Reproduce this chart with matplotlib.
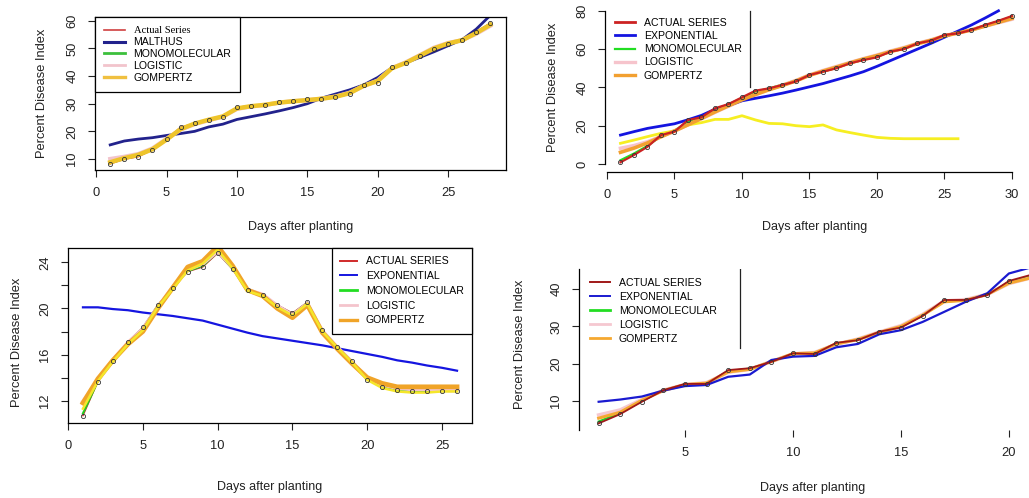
import matplotlib
matplotlib.use('Agg')
import matplotlib.pyplot as plt
from matplotlib.lines import Line2D

plt.rcParams['font.family'] = ['Liberation Sans', 'DejaVu Sans']

# ---- panel 1 (top left) ----
days1 = list(range(1, 29))
p1_actual = [8.2, 9.9, 10.8, 13.3, 17.1, 21.5, 22.9, 24.1, 25.1, 28.7, 29.3, 29.6, 30.8, 31.1,
             31.6, 31.6, 32.3, 33.4, 36.8, 37.6, 43.4, 44.7, 47.1, 49.8, 51.6, 52.9, 56.1, 59.2]
p1_malthus = [15.1, 16.5, 17.2, 17.7, 18.5, 19.2, 20.0, 21.6, 22.6, 24.3, 25.3, 26.3, 27.4, 28.6,
              30.0, 32.0, 33.5, 35.0, 36.8, 39.5, 43.0, 44.8, 46.8, 48.8, 51.0, 53.2, 57.0, 62.0]
p1_mono = [8.5, 10.1, 11.2, 13.4, 17.0, 21.0, 22.8, 24.1, 25.2, 28.5, 29.2, 29.6, 30.6, 31.0,
           31.4, 31.7, 32.4, 33.6, 36.6, 38.0, 43.0, 44.8, 47.2, 49.9, 51.7, 52.9, 55.8, 58.9]
p1_logistic = [10.0, 10.8, 11.8, 13.8, 17.3, 20.6, 22.6, 24.0, 25.3, 28.1, 29.0, 29.5, 30.4, 30.9,
               31.3, 31.8, 32.6, 34.0, 36.4, 38.4, 42.9, 45.0, 47.6, 50.3, 52.0, 53.0, 55.3, 58.2]
p1_gompertz = [8.8, 10.3, 11.5, 13.5, 17.0, 20.8, 22.8, 24.2, 25.4, 28.3, 29.1, 29.6, 30.4, 30.9,
               31.3, 31.8, 32.5, 33.8, 36.5, 38.2, 42.8, 44.8, 47.4, 50.0, 51.8, 53.0, 55.6, 58.6]
p1_labels = ['Actual Series', 'MALTHUS', 'MONOMOLECULAR', 'LOGISTIC', 'GOMPERTZ']

# ---- panel 2 (top right) ----
days2 = list(range(1, 31))
p2_actual = [0.9, 4.7, 9.0, 15.1, 16.9, 23.0, 24.4, 29.1, 31.3, 34.8, 38.3, 39.5, 41.3, 43.1, 46.5,
             48.2, 50.0, 52.6, 54.3, 55.7, 58.7, 60.0, 63.0, 64.4, 67.4, 68.2, 70.0, 72.6, 74.8, 77.3]
p2_expo = [15.1, 16.9, 18.6, 19.8, 21.0, 23.1, 25.4, 28.6, 30.6, 33.0, 34.3, 35.6, 37.0, 38.6, 40.3,
           42.0, 44.0, 46.0, 48.2, 51.0, 54.0, 57.0, 60.0, 63.0, 66.2, 69.4, 72.6, 76.2, 80.0]
p2_mono = [2.0, 5.5, 9.5, 14.5, 17.5, 22.0, 24.5, 28.5, 31.2, 34.5, 37.8, 39.5, 41.5, 43.4, 46.4,
           48.3, 50.2, 52.6, 54.4, 56.0, 58.7, 60.2, 62.9, 64.5, 67.2, 68.3, 70.1, 72.4, 74.6, 77.0]
p2_logistic = [8.2, 9.6, 11.6, 14.4, 17.3, 20.4, 23.6, 27.0, 30.2, 33.3, 36.2, 38.8, 41.2, 43.6, 46.5,
               48.8, 50.9, 53.0, 55.0, 56.9, 59.0, 60.8, 63.0, 64.8, 67.0, 68.5, 70.1, 72.0, 73.8, 75.6]
p2_gompertz = [6.1, 8.3, 11.0, 14.2, 17.2, 20.5, 23.8, 27.2, 30.4, 33.5, 36.3, 38.8, 41.0, 43.4, 46.3,
               48.5, 50.6, 52.8, 54.8, 56.6, 58.7, 60.5, 62.8, 64.6, 66.9, 68.4, 70.0, 72.0, 74.0, 76.0]
p2_extra = [10.8, 12.5, 14.3, 16.0, 17.3, 20.4, 21.6, 23.3, 23.3, 25.2, 23.0, 21.2, 21.0, 20.0, 19.5,
            20.4, 17.8, 16.4, 15.1, 13.9, 13.4, 13.2, 13.2, 13.2, 13.2, 13.2]
p2_labels = ['ACTUAL SERIES', 'EXPONENTIAL', 'MONOMOLECULAR', 'LOGISTIC', 'GOMPERTZ']

# ---- panel 3 (bottom left) ----
days3 = list(range(1, 27))
p3_actual = [10.7, 13.65, 15.45, 17.1, 18.35, 20.3, 21.8, 23.2, 23.6, 24.8, 23.4, 21.6, 21.2, 20.3,
             19.6, 20.55, 18.15, 16.7, 15.4, 13.8, 13.2, 12.9, 12.8, 12.8, 12.8, 12.8]
p3_expo = [20.1, 20.1, 19.95, 19.85, 19.65, 19.5, 19.35, 19.15, 18.95, 18.6, 18.25, 17.9, 17.6, 17.4,
           17.2, 17.0, 16.8, 16.55, 16.3, 16.05, 15.8, 15.5, 15.3, 15.05, 14.85, 14.6]
p3_mono = [10.9, 13.7, 15.45, 17.05, 18.3, 20.25, 21.8, 23.25, 23.7, 24.9, 23.45, 21.6, 21.2, 20.25,
           19.5, 20.5, 18.1, 16.65, 15.35, 13.85, 13.2, 12.95, 12.85, 12.85, 12.85, 12.85]
p3_logistic = [11.9, 13.8, 15.5, 17.0, 18.2, 20.1, 21.8, 23.4, 23.9, 25.0, 23.6, 21.6, 21.2, 20.2,
               19.4, 20.4, 18.0, 16.6, 15.3, 13.9, 13.4, 13.1, 13.0, 13.0, 13.0, 13.0]
p3_gompertz = [11.8, 13.9, 15.5, 16.9, 18.0, 20.0, 21.8, 23.6, 24.1, 25.4, 23.7, 21.6, 21.1, 20.0,
               19.2, 20.3, 17.9, 16.5, 15.2, 14.0, 13.5, 13.2, 13.2, 13.2, 13.2, 13.2]
p3_extra = [11.3, 13.7, 15.4, 16.9, 18.1, 20.1, 21.7, 23.3, 23.9, 25.1, 23.5, 21.5, 21.1, 20.1,
            19.4, 20.4, 18.0, 16.6, 15.3, 13.8, 13.1, 12.8, 12.7, 12.7, 12.8, 12.8]
p3_labels = ['ACTUAL SERIES', 'EXPONENTIAL', 'MONOMOLECULAR', 'LOGISTIC', 'GOMPERTZ']

# ---- panel 4 (bottom right) ----
days4 = list(range(1, 22))
p4_actual = [4.0, 6.5, 9.8, 12.9, 14.6, 14.6, 18.3, 18.8, 20.5, 22.8, 22.6, 25.6, 26.3, 28.6, 29.7,
             32.8, 37.1, 37.1, 38.4, 42.2, 43.8]
p4_expo = [9.8, 10.4, 11.2, 12.8, 14.0, 14.3, 16.5, 17.1, 21.0, 21.9, 22.1, 24.4, 25.3, 27.9, 29.0,
           31.2, 33.9, 36.6, 38.9, 44.2, 45.8]
p4_mono = [4.5, 6.8, 10.0, 12.9, 14.5, 14.7, 18.0, 18.7, 20.5, 22.7, 22.8, 25.4, 26.4, 28.5, 29.9,
           32.9, 36.9, 37.1, 38.5, 41.9, 43.4]
p4_logistic = [6.25, 7.6, 10.4, 12.9, 14.4, 14.9, 17.7, 18.5, 20.6, 22.6, 23.0, 25.2, 26.6, 28.5, 30.2,
               33.2, 36.8, 37.2, 38.6, 41.5, 43.0]
p4_gompertz = [5.4, 7.0, 10.2, 12.8, 14.4, 14.8, 17.8, 18.5, 20.6, 22.7, 22.9, 25.3, 26.5, 28.4, 30.0,
               33.0, 36.6, 37.0, 38.6, 41.6, 43.0]
p4_labels = ['ACTUAL SERIES', 'EXPONENTIAL', 'MONOMOLECULAR', 'LOGISTIC', 'GOMPERTZ']

W, H = 1029, 498
XLAB = 'Days after planting'
YLAB = 'Percent Disease Index'


def px_axes(fig, left, top, right, bottom):
  return fig.add_axes([left/W, 1 - bottom/H, (right - left)/W, (bottom - top)/H])


def style(ax, xticks, yticks, ylabels=None):
  ax.set_xticks(xticks)
  ax.set_yticks(yticks)
  if ylabels is not None:
    ax.set_yticklabels(ylabels)
  ax.tick_params(direction='out', length=5, width=0.8, labelsize=9.3, pad=7, colors='#222222')
  for t in ax.get_yticklabels():
    t.set_rotation(90)
    t.set_va('center')
  for s in ax.spines.values():
    s.set_linewidth(0.9)


def labels(ax, xpos, ypos):
  ax.set_xlabel(XLAB, fontsize=9.0, color='#222222')
  ax.set_ylabel(YLAB, fontsize=9.3, color='#222222')
  ax.xaxis.set_label_coords(*xpos)
  ax.yaxis.set_label_coords(*ypos)
  ax.xaxis.label.set_va('center')
  ax.yaxis.label.set_va('center')


def points(ax, x, y):
  ax.plot(x, y, 'o', mfc='none', mec='#333333', ms=3, mew=0.6, zorder=10)


def legend(ax, cols, lws, labs, **kw):
  hs = [Line2D([], [], color=c, lw=w) for c, w in zip(cols, lws)]
  return ax.legend(hs, labs, fontsize=7.6, borderaxespad=0, fancybox=False, framealpha=1,
                   handletextpad=0.8, **kw)


fig = plt.figure(figsize=(W/100, H/100), dpi=100)

# panel 1
ax1 = px_axes(fig, 95, 17, 505.5, 170)
ax1.plot(days1, p1_actual, color='#d03a3a', lw=1.0)
ax1.plot(days1, p1_malthus, color='#22228c', lw=2.0)
ax1.plot(days1, p1_mono, color='#3cc03c', lw=1.5)
ax1.plot(days1, p1_logistic, color='#f2c4cc', lw=3.0)
ax1.plot(days1, p1_gompertz, color='#eec42a', lw=3.2)
points(ax1, days1, p1_actual)
ax1.set_xlim(-0.08, 29.08)
ax1.set_ylim(6.0, 61.4)
style(ax1, [0, 5, 10, 15, 20, 25], [10, 20, 30, 40, 50, 60])
labels(ax1, (0.5, -0.37), (-0.129, 0.5))
lg = legend(ax1, ['#d04040', '#22228c', '#3cc03c', '#f2c4cc', '#f0c040'], [1.2, 2.2, 2, 2, 2.4],
            p1_labels, loc='upper left', bbox_to_anchor=(0, 1), handlelength=2.0,
            labelspacing=0.18, borderpad=0.85, edgecolor='black')
lg.get_frame().set_linewidth(0.9)
lg.get_texts()[0].set_family(['Liberation Serif', 'DejaVu Serif'])

# panel 2
ax2 = px_axes(fig, 605, 0, 1029, 172)
ax2.plot(days2, p2_mono, color='#22dd22', lw=1.5)
ax2.plot(days2, p2_logistic, color='#f6c4cc', lw=2.6)
ax2.plot(days2[:len(p2_extra)], p2_extra, color='#f6ee22', lw=2.0)
ax2.plot(days2[:len(p2_expo)], p2_expo, color='#1414e0', lw=2.0)
ax2.plot(days2, p2_gompertz, color='#f2a030', lw=2.6)
ax2.plot(days2, p2_actual, color='#cc2222', lw=1.6)
points(ax2, days2, p2_actual)
ax2.set_xlim(-0.148, 31.26)
ax2.set_ylim(-4.18, 85.64)
style(ax2, [0, 5, 10, 15, 20, 25, 30], [0, 20, 40, 60, 80])
ax2.spines['top'].set_visible(False)
ax2.spines['right'].set_visible(False)
ax2.spines['left'].set_bounds(0, 80)
ax2.spines['bottom'].set_bounds(0, 30)
labels(ax2, (0.495, -0.32), (-0.123, 0.49))
legend(ax2, ['#cc2222', '#1414e0', '#22dd22', '#f6c4cc', '#f2a030'], [2, 2, 1.6, 2.4, 2.4],
       p2_labels, loc='upper left', bbox_to_anchor=(0.014, 0.92), handlelength=1.9,
       labelspacing=0.3, borderpad=0.4, frameon=False)
ax2.axvline(10.6, ymin=0.494, ymax=0.936, color='#222222', lw=0.9)

# panel 3
ax3 = px_axes(fig, 68, 248, 472, 423)
ax3.plot(days3, p3_actual, color='#d02a2a', lw=1.0)
ax3.plot(days3, p3_expo, color='#1515e0', lw=1.6)
ax3.plot(days3, p3_mono, color='#22cc22', lw=1.5)
ax3.plot(days3, p3_logistic, color='#f4c4cc', lw=3.0)
ax3.plot(days3, p3_gompertz, color='#f0a428', lw=3.4)
ax3.plot(days3, p3_extra, color='#f5e62a', lw=1.8)
points(ax3, days3, p3_actual)
ax3.set_xlim(0, 27)
ax3.set_ylim(10.06, 25.25)
style(ax3, [0, 5, 10, 15, 20, 25], [12, 14, 16, 18, 20, 22, 24],
      ['12', '', '16', '', '20', '', '24'])
labels(ax3, (0.5, -0.366), (-0.126, 0.46))
lg = legend(ax3, ['#d02a2a', '#1515e0', '#22dd22', '#f4c4cc', '#f0a428'], [1.4, 1.4, 2, 2, 2.4],
            p3_labels, loc='upper right', bbox_to_anchor=(1, 1), handlelength=1.6,
            labelspacing=0.45, borderpad=0.8, edgecolor='black')
lg.get_frame().set_linewidth(0.9)

# panel 4
ax4 = px_axes(fig, 579, 269, 1029, 430)
ax4.plot(days4, p4_mono, color='#22cc22', lw=1.5)
ax4.plot(days4, p4_logistic, color='#f5c8d0', lw=2.6)
ax4.plot(days4, p4_gompertz, color='#f5a830', lw=2.2)
ax4.plot(days4, p4_expo, color='#1a1ad0', lw=1.6)
ax4.plot(days4, p4_actual, color='#a01818', lw=1.3)
points(ax4, days4, p4_actual)
ax4.set_xlim(0.09, 20.93)
ax4.set_ylim(2.23, 45.4)
style(ax4, [5, 10, 15, 20], [10, 20, 30, 40])
for k in ['top', 'right', 'bottom']:
  ax4.spines[k].set_visible(False)
labels(ax4, (0.52, -0.36), (-0.131, 0.53))
legend(ax4, ['#a01818', '#1a1ad0', '#22dd22', '#f5c8d0', '#f5a830'], [1.4, 1.4, 2, 2, 2],
       p4_labels, loc='upper left', bbox_to_anchor=(0.016, 0.97), handlelength=1.9,
       labelspacing=0.38, borderpad=0.4, frameon=False)
ax4.axvline(7.55, ymin=0.509, ymax=1.0, color='#222222', lw=0.9)

fig.savefig('out.png', dpi=100)
